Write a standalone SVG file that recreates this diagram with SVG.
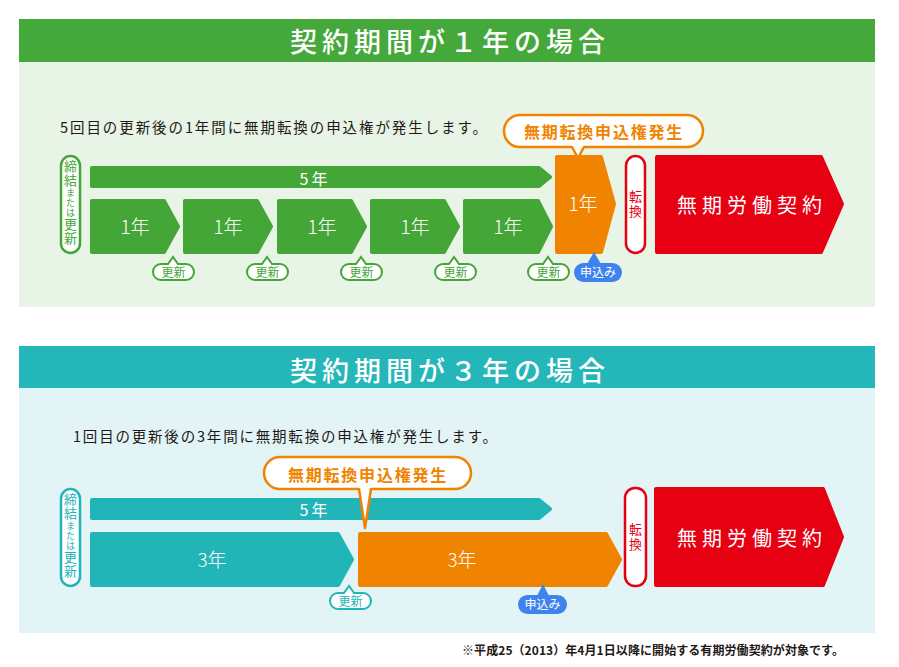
<svg xmlns="http://www.w3.org/2000/svg" width="899" height="667" viewBox="0 0 899 667">
<style>
text{font-family:"Noto Sans CJK JP","Noto Sans",sans-serif}
.hdrT{fill:#fff;font-size:27px;font-weight:500;letter-spacing:5px;text-anchor:middle}
.desc{fill:#231815;font-size:14.5px}
.wt{fill:#fff;text-anchor:middle}
.yr{font-size:19px;font-weight:300}
.g{fill:#44a636;stroke:#44a636;stroke-width:4;stroke-linejoin:round}
.t{fill:#22b5b8;stroke:#22b5b8;stroke-width:4;stroke-linejoin:round}
.o{fill:#f08300;stroke:#f08300;stroke-width:4;stroke-linejoin:round}
.r{fill:#e60012;stroke:#e60012;stroke-width:4;stroke-linejoin:round}
.pillG{fill:#fff;stroke:#44a636;stroke-width:2.5}
.pillT{fill:#fff;stroke:#22b5b8;stroke-width:2.5}
.pillR{fill:#fff;stroke:#e60012;stroke-width:2.5}
.vert{writing-mode:vertical-rl;font-size:13px;letter-spacing:1px}
.vG{fill:#44a636}
.vT{fill:#22b5b8}
.vR{fill:#e60012;letter-spacing:2px}
.sm{font-size:9px}
.call{fill:#fff;stroke:#f08300;stroke-width:2.5;stroke-linejoin:round}
.callT{fill:#f08300;font-size:16px;font-weight:700;letter-spacing:1.8px;text-anchor:middle}
.bubG{fill:#fff;stroke:#44a636;stroke-width:2}
.bubT{fill:#fff;stroke:#22b5b8;stroke-width:2}
.bubTxtG{fill:#44a636;font-size:12px;text-anchor:middle}
.bubTxtT{fill:#22b5b8;font-size:12px;text-anchor:middle}
.blue{fill:#3f83ef}
.blueT{fill:#fff;font-size:12px;text-anchor:middle}
.perm{fill:#fff;font-size:20px;letter-spacing:5px;text-anchor:middle}
</style>

<!-- Section 1 -->
<g id="section1">
  <rect x="19" y="62" width="856" height="245" fill="#e7f4e6"/>
  <rect x="19" y="19" width="856" height="43" fill="#45a83a"/>
  <text class="hdrT" x="450" y="52">契約期間が１年の場合</text>
  <text class="desc" x="60" y="133" textLength="427" lengthAdjust="spacing">5回目の更新後の1年間に無期転換の申込権が発生します。</text>
</g>

<g id="s1-start">
  <rect class="pillG" x="61" y="156" width="19" height="97" rx="9.5"/>
  <text class="vert vG" x="70.5" y="160">締結<tspan class="sm">または</tspan>更新</text>
</g>

<g id="s1-5yr">
  <polygon class="g" points="92,168 539,168 550,177 539,186 92,186"/>
  <text class="wt" x="315" y="185" font-size="16" letter-spacing="3">5年</text>
</g>

<g id="s1-y1">
  <polygon class="g" points="92,201 164,201 178,226.5 164,252 92,252"/>
  <text class="wt yr" x="135" y="234">1年</text>
</g>
<g id="s1-y2">
  <polygon class="g" points="185,201 257,201 271,226.5 257,252 185,252"/>
  <text class="wt yr" x="228" y="234">1年</text>
</g>
<g id="s1-y3">
  <polygon class="g" points="279,201 351,201 365,226.5 351,252 279,252"/>
  <text class="wt yr" x="322" y="234">1年</text>
</g>
<g id="s1-y4">
  <polygon class="g" points="372,201 444,201 458,226.5 444,252 372,252"/>
  <text class="wt yr" x="415" y="234">1年</text>
</g>
<g id="s1-y5">
  <polygon class="g" points="465,201 538,201 551,226.5 538,252 465,252"/>
  <text class="wt yr" x="508" y="234">1年</text>
</g>

<g id="s1-orange">
  <polygon class="o" points="557,157 601,157 614,204 601,252 557,252"/>
  <text class="wt yr" x="583" y="211">1年</text>
</g>

<g id="s1-callout">
  <path class="call" d="M520,115 H687 A16,16 0 0 1 687,147 H584 L578,158 L572,147 H520 A16,16 0 0 1 520,115 Z"/>
  <text class="callT" x="604" y="138">無期転換申込権発生</text>
</g>

<g id="s1-renew">
  <path class="bubG" d="M161,264 H168 L173,257 L178,264 H186 A8,8 0 0 1 186,280 H161 A8,8 0 0 1 161,264 Z"/>
  <text class="bubTxtG" x="173.5" y="276.5">更新</text>
  <path class="bubG" d="M255,264 H262 L267,257 L272,264 H280 A8,8 0 0 1 280,280 H255 A8,8 0 0 1 255,264 Z"/>
  <text class="bubTxtG" x="267.5" y="276.5">更新</text>
  <path class="bubG" d="M349,264 H356 L361,257 L366,264 H374 A8,8 0 0 1 374,280 H349 A8,8 0 0 1 349,264 Z"/>
  <text class="bubTxtG" x="361.5" y="276.5">更新</text>
  <path class="bubG" d="M443,264 H449 L454,257 L459,264 H468 A8,8 0 0 1 468,280 H443 A8,8 0 0 1 443,264 Z"/>
  <text class="bubTxtG" x="455.5" y="276.5">更新</text>
  <path class="bubG" d="M536,264 H543 L548,257 L553,264 H561 A8,8 0 0 1 561,280 H536 A8,8 0 0 1 536,264 Z"/>
  <text class="bubTxtG" x="548.5" y="276.5">更新</text>
</g>

<g id="s1-apply">
  <rect class="blue" x="574" y="263" width="48" height="19" rx="9.5"/>
  <polygon class="blue" points="587,264 594,252 601,264"/>
  <text class="blueT" x="598" y="277">申込み</text>
</g>

<g id="s1-convert">
  <rect class="pillR" x="626" y="156" width="19" height="97" rx="9.5"/>
  <text class="vert vR" x="635.5" y="190">転換</text>
</g>

<g id="s1-permanent">
  <polygon class="r" points="657,157 821,157 842,204 821,252 657,252"/>
  <text class="perm" x="752" y="213">無期労働契約</text>
</g>

<!-- Section 2 -->
<g id="section2">
  <rect x="19" y="388" width="856" height="245" fill="#e2f4f5"/>
  <rect x="19" y="346" width="856" height="42" fill="#25b6ba"/>
  <text class="hdrT" x="450" y="381">契約期間が３年の場合</text>
  <text class="desc" x="73" y="442" textLength="424" lengthAdjust="spacing">1回目の更新後の3年間に無期転換の申込権が発生します。</text>
</g>

<g id="s2-start">
  <rect class="pillT" x="61" y="489" width="19" height="97" rx="9.5"/>
  <text class="vert vT" x="70.5" y="493">締結<tspan class="sm">または</tspan>更新</text>
</g>

<g id="s2-5yr">
  <polygon class="t" points="92,500 539,500 550,509 539,518 92,518"/>
  <text class="wt" x="315" y="516" font-size="16" letter-spacing="3">5年</text>
</g>

<g id="s2-y3a">
  <polygon class="t" points="92,534 338,534 352,559.5 338,585 92,585"/>
  <text class="wt yr" x="212" y="567">3年</text>
</g>

<g id="s2-y3b">
  <polygon class="o" points="360,534 606,534 620,559.5 606,585 360,585"/>
  <text class="wt yr" x="462" y="567">3年</text>
</g>

<g id="s2-callout">
  <path class="call" d="M280,457 H455 A16,16 0 0 1 455,489 H371 L365,528 L359,489 H280 A16,16 0 0 1 280,457 Z"/>
  <text class="callT" x="368" y="481">無期転換申込権発生</text>
</g>

<g id="s2-renew">
  <path class="bubT" d="M338,593 H344 L349,586 L354,593 H363 A8,8 0 0 1 363,609 H338 A8,8 0 0 1 338,593 Z"/>
  <text class="bubTxtT" x="350.5" y="605.5">更新</text>
</g>

<g id="s2-apply">
  <rect class="blue" x="518" y="595" width="49" height="19" rx="9.5"/>
  <polygon class="blue" points="537,596 543,584 549,596"/>
  <text class="blueT" x="542.5" y="609">申込み</text>
</g>

<g id="s2-convert">
  <rect class="pillR" x="625" y="488" width="21" height="98" rx="10"/>
  <text class="vert vR" x="635.5" y="523">転換</text>
</g>

<g id="s2-permanent">
  <polygon class="r" points="656,489 823,489 842,537 823,585 656,585"/>
  <text class="perm" x="752" y="546">無期労働契約</text>
</g>

<g id="connectors"></g>

<text x="844" y="655" text-anchor="end" fill="#231815" font-size="12" font-weight="700" textLength="382" lengthAdjust="spacing">※平成25（2013）年4月1日以降に開始する有期労働契約が対象です。</text>
</svg>
